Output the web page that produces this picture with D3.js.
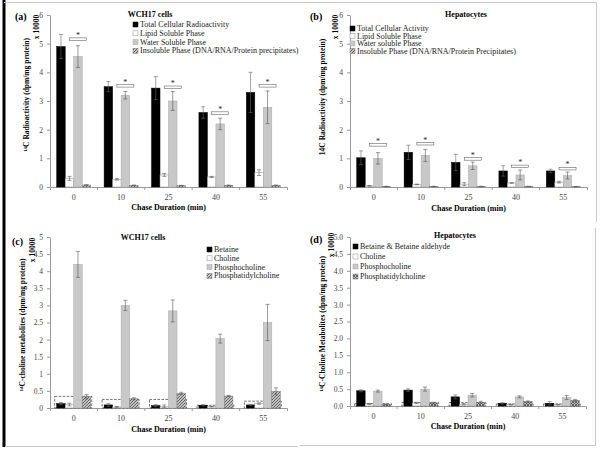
<!DOCTYPE html>
<html>
<head>
<meta charset="utf-8">
<script src="https://cdn.jsdelivr.net/npm/d3@7"></script>
<style>
body { margin: 0; background: #fff; }
svg { display: block; }
text { font-family: "Liberation Serif", "Times New Roman", serif; }
</style>
</head>
<body>
<svg id="chart" width="600" height="451"></svg>
<script>
// categories (chase duration, min)
var categories = ["0", "10", "25", "40", "55"];

// (a) WCH17 cells, fractions (x 10000)
var aLegend = ["Total Cellular Radioactivity", "Lipid Soluble Phase", "Water Soluble Phase", "Insoluble Phase (DNA/RNA/Protein precipitates)"];
var aTotal = [4.9, 3.5, 3.45, 2.6, 3.3],   aTotalErr = [0.42, 0.18, 0.4, 0.2, 0.7];
var aLipid = [0.3, 0.27, 0.42, 0.35, 0.5], aLipidErr = [0.07, 0.03, 0.05, 0.02, 0.1];
var aWater = [4.55, 3.2, 3.0, 2.2, 2.78],  aWaterErr = [0.38, 0.13, 0.33, 0.2, 0.57];
var aInsol = [0.07, 0.06, 0.05, 0.06, 0.06], aInsolErr = [0.01, 0.01, 0.01, 0.01, 0.01];
var aSig = [5.15, 3.52, 3.47, 2.57, 3.52];

// (b) Hepatocytes, fractions
var bLegend = ["Total Cellular Activity", "Lipid Soluble Phase", "Water soluble Phase", "Insoluble Phase (DNA/RNA/Protein Precipitates)"];
var bTotal = [1.02, 1.21, 0.86, 0.56, 0.56], bTotalErr = [0.24, 0.25, 0.28, 0.18, 0.06];
var bLipid = [0.04, 0.09, 0.1, 0.14, 0.17], bLipidErr = [0.01, 0.01, 0.05, 0.01, 0.03];
var bWater = [1.0, 1.1, 0.74, 0.42, 0.4],   bWaterErr = [0.2, 0.21, 0.13, 0.17, 0.12];
var bInsol = [0.02, 0.02, 0.02, 0.02, 0.01], bInsolErr = [0.005, 0.005, 0.005, 0.005, 0.005];
var bSig = [1.46, 1.5, 0.97, 0.71, 0.63];

// (c) WCH17 cells, choline metabolites
var cLegend = ["Betaine", "Choline", "Phosphocholine", "Phosphatidylcholine"];
var cBet = [0.13, 0.09, 0.07, 0.08, 0.09],  cBetErr = [0.03, 0.04, 0.03, 0.02, 0.02];
var cCho = [0.1, 0.03, 0.05, 0.04, 0.13],   cChoErr = [0.04, 0.01, 0.04, 0.01, 0.02];
var cPC = [4.2, 3.0, 2.84, 2.03, 2.5],      cPCErr = [0.38, 0.15, 0.32, 0.13, 0.53];
var cPtdC = [0.33, 0.27, 0.43, 0.35, 0.49], cPtdCErr = [0.06, 0.03, 0.03, 0.02, 0.1];
var cBox = [0.34, 0.25, 0.25, 0.08, 0.2];

// (d) Hepatocytes, choline metabolites
var dLegend = ["Betaine & Betaine aldehyde", "Choline", "Phosphocholine", "Phosphatidylcholine"];
var dBet = [0.45, 0.47, 0.27, 0.08, 0.08],  dBetErr = [0.03, 0.04, 0.06, 0.02, 0.05];
var dCho = [0.06, 0.09, 0.05, 0.04, 0.04],  dChoErr = [0.01, 0.02, 0.02, 0.01, 0.01];
var dPC = [0.44, 0.5, 0.32, 0.27, 0.25],    dPCErr = [0.03, 0.06, 0.05, 0.03, 0.06];
var dPtdC = [0.05, 0.09, 0.11, 0.13, 0.17], dPtdCErr = [0.01, 0.02, 0.03, 0.02, 0.02];
var dBox = [0.07, 0.1, 0.1, 0.06, 0.06];

var svg = d3.select("#chart");
var axisCol = "#9a9a9a", tickTxt = "#444";

var defs = svg.append("defs");
function hatch(id, cross) {
  var p = defs.append("pattern").attr("id", id).attr("patternUnits", "userSpaceOnUse")
    .attr("width", 3).attr("height", 3);
  p.append("rect").attr("width", 3).attr("height", 3).attr("fill", "#c4c4c4");
  p.append("path").attr("d", "M-1,1 L1,-1 M0,3 L3,0 M2,4 L4,2")
    .attr("stroke", "#444").attr("stroke-width", 0.8);
  if (cross) p.append("path").attr("d", "M-1,2 L1,4 M0,0 L3,3 M2,-1 L4,1")
    .attr("stroke", "#444").attr("stroke-width", 0.8);
}
hatch("hatch", false);
hatch("xhatch", true);

function styles(pat) {
  return [
    {fill: "#000", stroke: "#000"},
    {fill: "#fff", stroke: "#8a8a8a"},
    {fill: "#c8c8c8", stroke: "#a8a8a8"},
    {fill: "url(#" + pat + ")", stroke: "#777"}
  ];
}

// frame lines
svg.append("line").attr("x1", 4).attr("x2", 4).attr("y1", 0).attr("y2", 447)
  .attr("stroke", "#000").attr("stroke-width", 3);
svg.append("path").attr("d", "M4,2.5 H596.5 V222 M300,445.5 H595.5 V228 M5,446.5 H298")
  .attr("fill", "none").attr("stroke", "#c8c8c8").attr("stroke-width", 1);

function drawPanel(p) {
  var g = svg.append("g");
  var st = styles(p.pattern);
  var x = d3.scaleBand().domain(categories).range([p.x0, p.x1]);
  var xs = d3.scaleBand().domain(d3.range(4)).range([0, x.bandwidth()]).paddingOuter(0.79);
  var y = d3.scaleLinear().domain([0, p.yMax]).range([p.yBot, p.yTop]);

  // y axis
  var ya = g.append("g").attr("transform", "translate(" + p.x0 + ",0)")
    .call(d3.axisLeft(y).tickValues(p.ticks).tickFormat(p.fmt).tickSize(3).tickSizeOuter(0).tickPadding(4));
  ya.select(".domain").attr("stroke", axisCol);
  ya.selectAll(".tick line").attr("stroke", axisCol);
  ya.selectAll(".tick text").attr("fill", tickTxt).style("font-size", "7.5px")
    .style("font-family", "Liberation Serif");

  // x axis
  var xa = g.append("g").attr("transform", "translate(0," + p.yBot + ")")
    .call(d3.axisBottom(x).tickSize(0).tickPadding(7).tickSizeOuter(3));
  xa.select(".domain").attr("stroke", axisCol);
  xa.selectAll(".tick text").attr("fill", tickTxt).style("font-size", "8px")
    .style("font-family", "Liberation Serif");
  xa.selectAll(".bound").data(categories.slice(1)).enter().append("line")
    .attr("x1", function (c) { return x(c); }).attr("x2", function (c) { return x(c); })
    .attr("y1", 0).attr("y2", 3).attr("stroke", axisCol);

  // dashed boxes
  if (p.box) {
    g.selectAll(".box").data(p.box).enter().append("rect")
      .attr("x", function (d, i) { return x(categories[i]) + xs(0) - 2; })
      .attr("width", xs.step() * 4 + 3)
      .attr("y", function (d) { return y(d); })
      .attr("height", function (d) { return p.yBot - y(d); })
      .attr("fill", "none").attr("stroke", "#333").attr("stroke-width", 0.7)
      .attr("stroke-dasharray", "2.5,1.5");
  }

  // bars and error bars
  p.series.forEach(function (vals, s) {
    var errs = p.errs[s];
    g.selectAll(".bar" + s).data(vals).enter().append("rect")
      .attr("x", function (d, i) { return x(categories[i]) + xs(s); })
      .attr("width", xs.bandwidth())
      .attr("y", function (d) { return y(d); })
      .attr("height", function (d) { return p.yBot - y(d); })
      .attr("fill", st[s].fill).attr("stroke", st[s].stroke).attr("stroke-width", 0.5);
    vals.forEach(function (v, i) {
      var cx = x(categories[i]) + xs(s) + xs.bandwidth() / 2;
      var e = errs[i];
      var y1 = y(v + e), y2 = y(Math.max(0, v - e));
      g.append("path")
        .attr("d", "M" + cx + "," + y1 + "V" + y2 + "M" + (cx - 2) + "," + y1 + "H" + (cx + 2) +
          "M" + (cx - 2) + "," + y2 + "H" + (cx + 2))
        .attr("stroke", s === 0 ? "#666" : "#555").attr("stroke-width", 0.6).attr("fill", "none");
    });
  });

  // significance brackets
  if (p.sig) {
    p.sig.forEach(function (v, i) {
      var xl = x(categories[i]) + xs(1) + xs.bandwidth() / 2;
      var xr = x(categories[i]) + xs(3) + xs.bandwidth() / 2;
      var yy = y(v);
      g.append("rect").attr("x", xl).attr("y", yy - 1.5).attr("width", xr - xl).attr("height", 2.5)
        .attr("fill", "none").attr("stroke", "#666").attr("stroke-width", 0.6);
      g.append("text").attr("x", (xl + xr) / 2).attr("y", yy - 1.5).attr("text-anchor", "middle")
        .style("font-size", "8px").attr("fill", "#222").text("*");
    });
  }

  // titles and labels
  g.append("text").attr("x", p.labX).attr("y", p.labY).style("font-size", "10px")
    .style("font-weight", "bold").text(p.label);
  g.append("text").attr("x", p.titleX).attr("y", p.titleY).attr("text-anchor", "middle")
    .style("font-size", "8px").style("font-weight", "bold").text(p.title);
  g.append("text").attr("x", (p.x0 + p.x1) / 2).attr("y", p.xTitleY).attr("text-anchor", "middle")
    .style("font-size", "8px").style("font-weight", "bold").text("Chase Duration (min)");

  var yl = g.append("text").attr("transform", "translate(" + p.yLabX + "," + p.yLabY + ") rotate(-90)")
    .attr("text-anchor", "middle").style("font-size", "7.5px").style("font-weight", "bold");
  if (p.yLabSup) {
    yl.append("tspan").attr("baseline-shift", "super").style("font-size", "5px").text("14");
    yl.append("tspan").text(p.yLab);
  } else {
    yl.text(p.yLab);
  }
  g.append("text").attr("transform", "translate(" + p.multX + "," + p.multY + ") rotate(-90)")
    .attr("text-anchor", "middle").style("font-size", "7.5px").style("font-weight", "bold").text("x 10000");

  // legend
  p.legend.forEach(function (t, s) {
    var ly = p.legY + s * p.legStep;
    g.append("rect").attr("x", p.legX).attr("y", ly - 5).attr("width", 5).attr("height", 5)
      .attr("fill", st[s].fill).attr("stroke", st[s].stroke).attr("stroke-width", 0.5);
    g.append("text").attr("x", p.legX + 7).attr("y", ly).style("font-size", "8px").attr("fill", "#222").text(t);
  });
}

var intFmt = d3.format("");

drawPanel({
  x0: 50, x1: 287, yTop: 15, yBot: 187, yMax: 6, ticks: d3.range(0, 7), fmt: intFmt, pattern: "hatch",
  series: [aTotal, aLipid, aWater, aInsol], errs: [aTotalErr, aLipidErr, aWaterErr, aInsolErr], sig: aSig,
  label: "(a)", labX: 15, labY: 20, title: "WCH17 cells", titleX: 150, titleY: 17, xTitleY: 210,
  yLab: "C Radioactivity (dpm/mg protein)", yLabSup: true, yLabX: 29, yLabY: 95, multX: 39, multY: 27,
  legend: aLegend, legX: 133, legY: 27, legStep: 8.8
});

drawPanel({
  x0: 350, x1: 587, yTop: 15, yBot: 187, yMax: 6, ticks: d3.range(0, 7), fmt: intFmt, pattern: "hatch",
  series: [bTotal, bLipid, bWater, bInsol], errs: [bTotalErr, bLipidErr, bWaterErr, bInsolErr], sig: bSig,
  label: "(b)", labX: 310, labY: 20, title: "Hepatocytes", titleX: 466, titleY: 17, xTitleY: 211,
  yLab: "14C Radioactivity (dpm/mg protein)", yLabSup: false, yLabX: 325, yLabY: 97, multX: 338, multY: 27,
  legend: bLegend, legX: 350, legY: 31, legStep: 7.5
});

drawPanel({
  x0: 50, x1: 287, yTop: 237, yBot: 408, yMax: 5, ticks: d3.range(0, 5.01, 0.5), fmt: intFmt, pattern: "hatch",
  series: [cBet, cCho, cPC, cPtdC], errs: [cBetErr, cChoErr, cPCErr, cPtdCErr], box: cBox,
  label: "(c)", labX: 12, labY: 245, title: "WCH17 cells", titleX: 143, titleY: 240, xTitleY: 432,
  yLab: "C-choline metabolites (dpm/mg protein)", yLabSup: true, yLabX: 25, yLabY: 325, multX: 35, multY: 250,
  legend: cLegend, legX: 207, legY: 252, legStep: 8.8
});

drawPanel({
  x0: 350, x1: 586, yTop: 237, yBot: 406, yMax: 5, ticks: d3.range(0, 5.01, 0.5), fmt: d3.format(".1f"), pattern: "xhatch",
  series: [dBet, dCho, dPC, dPtdC], errs: [dBetErr, dChoErr, dPCErr, dPtdCErr], box: dBox,
  label: "(d)", labX: 310, labY: 243, title: "Hepatocytes", titleX: 455, titleY: 238, xTitleY: 429,
  yLab: "C-Choline Metabolites (dpm/mg protein)", yLabSup: true, yLabX: 325, yLabY: 324, multX: 334, multY: 245,
  legend: dLegend, legX: 353, legY: 249, legStep: 10
});
</script>
</body>
</html>
